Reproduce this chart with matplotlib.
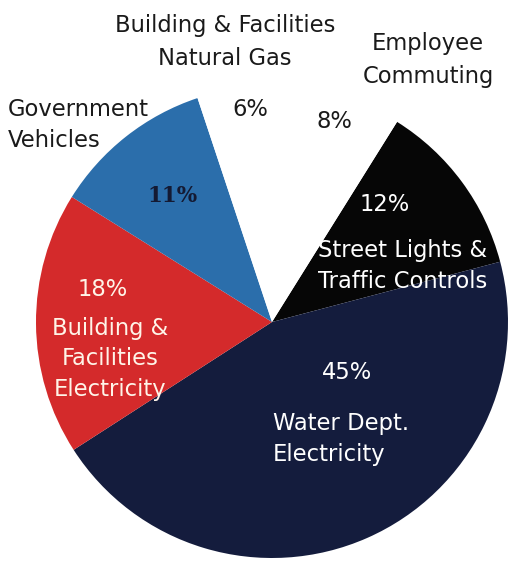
import matplotlib.pyplot as plt

# clockwise from the top-right edge of the black wedge
categories = ['Street Lights & Traffic Controls', 'Water Dept. Electricity',
              'Building & Facilities Electricity', 'Government Vehicles',
              'Building & Facilities Natural Gas', 'Employee Commuting']
shares = [12, 45, 18, 11, 6, 8]
colors = ['#060606', '#141c3d', '#d42a2b', '#2b6eab', '#ffffff', '#ffffff']

fig = plt.figure(figsize=(5.08, 5.68), dpi=100)
ax = fig.add_axes([0, 0, 1, 1])

ax.pie(shares, colors=colors, startangle=58, counterclock=False,
       radius=1, center=(0, 0), wedgeprops=dict(linewidth=0))

ax.set_xlim(-272 / 236, (508 - 272) / 236)
ax.set_ylim(-(568 - 322) / 236, 322 / 236)
ax.set_aspect('auto')
ax.axis('off')


def px(x, y):
    return (x - 272) / 236, (322 - y) / 236


font = 'DejaVu Sans'
fs = 16.3

# outside labels
ax.text(*px(225, 42), 'Building & Facilities\nNatural Gas', ha='center', va='center',
        fontsize=fs, family=font, color='#1a1a1a', linespacing=1.55)
ax.text(*px(428, 60), 'Employee\nCommuting', ha='center', va='center',
        fontsize=fs, family=font, color='#1a1a1a', linespacing=1.55)
ax.text(*px(8, 125), 'Government\nVehicles', ha='left', va='center',
        fontsize=fs, family=font, color='#1a1a1a', linespacing=1.42)
ax.text(*px(250, 110), '6%', ha='center', va='center',
        fontsize=fs, family=font, color='#1a1a1a')
ax.text(*px(334, 122), '8%', ha='center', va='center',
        fontsize=fs, family=font, color='#1a1a1a')

# inside labels
ax.text(*px(173, 196), '11%', ha='center', va='center', fontsize=15.5,
        family='DejaVu Serif', fontweight='bold', color='#141a33')
ax.text(*px(103, 290), '18%', ha='center', va='center',
        fontsize=fs, family=font, color='#fff4e8')
ax.text(*px(110, 359), 'Building &\nFacilities\nElectricity', ha='center', va='center',
        fontsize=fs, family=font, color='#fff4e8', linespacing=1.42)
ax.text(*px(385, 205), '12%', ha='center', va='center',
        fontsize=fs, family=font, color='white')
ax.text(*px(403, 266), 'Street Lights &\nTraffic Controls', ha='center', va='center',
        fontsize=fs, family=font, color='white', linespacing=1.42)
ax.text(*px(347, 373), '45%', ha='center', va='center',
        fontsize=fs, family=font, color='white')
ax.text(*px(273, 439), 'Water Dept.\nElectricity', ha='left', va='center',
        fontsize=fs, family=font, color='white', linespacing=1.42)

fig.savefig('out.png', dpi=100)
